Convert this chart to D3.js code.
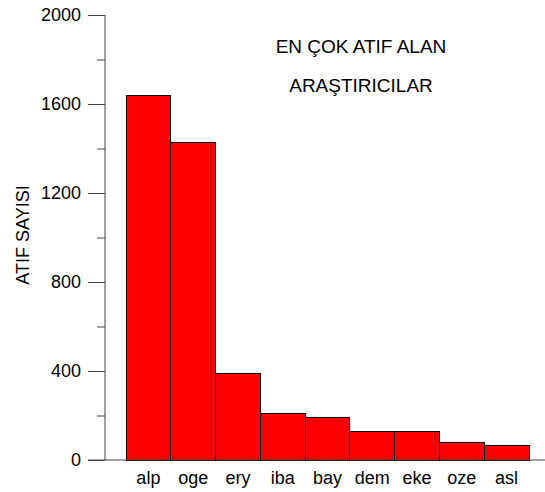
<!DOCTYPE html>
<html><head><meta charset="utf-8">
<script src="https://cdn.jsdelivr.net/npm/d3@7"></script>
<style>body{margin:0;background:#fff}svg{display:block;font-family:"Liberation Sans",Arial,sans-serif}</style>
</head><body>
<script>
const categories = ["alp","oge","ery","iba","bay","dem","eke","oze","asl"];
const values = [1640,1425,390,207,192,130,126,80,67];
const majorTicks = [0,400,800,1200,1600,2000];
const minorTicks = [200,600,1000,1400,1800];
const titleLines = ["EN ÇOK ATIF ALAN","ARAŞTIRICILAR"];
const yTitle = "ATIF SAYISI";

const W=545,H=492;
const svg=d3.select("body").append("svg").attr("width",W).attr("height",H);
const y=d3.scaleLinear().domain([0,2000]).range([460,15]);
const x=d3.scaleBand().domain(categories).range([126,529]).padding(0);
const FONT="Liberation Sans, Arial, sans-serif";

// bars
svg.append("g").selectAll("rect").data(categories).join("rect")
  .attr("x",d=>x(d)).attr("width",x.bandwidth())
  .attr("y",(d,i)=>y(values[i])).attr("height",(d,i)=>y(0)-y(values[i]))
  .attr("fill","#ff0000").attr("stroke","#000").attr("stroke-width",1)
  .attr("shape-rendering","crispEdges");

// y axis
const yAxis=d3.axisLeft(y).tickValues(majorTicks).tickSize(17).tickPadding(7).tickFormat(d3.format("d"));
const gy=svg.append("g").attr("transform","translate(105,0)").call(yAxis);
gy.select(".domain").remove();
gy.append("line").attr("x1",0).attr("x2",0).attr("y1",y(2000)).attr("y2",y(0)).attr("stroke","#444");
gy.selectAll(".tick line").attr("stroke","#444");
gy.selectAll("text").attr("font-size",18).attr("fill","#000").attr("font-family",FONT);
const gm=svg.append("g").attr("transform","translate(105,0)").call(d3.axisLeft(y).tickValues(minorTicks).tickSize(8).tickFormat(""));
gm.select(".domain").remove();
gm.selectAll(".tick line").attr("stroke","#444");

// x axis
const xAxis=d3.axisBottom(x).tickSize(0).tickPadding(0);
const gx=svg.append("g").attr("transform","translate(0,460)").call(xAxis);
gx.select(".domain").remove();
gx.append("line").attr("x1",88).attr("x2",545).attr("y1",0).attr("y2",0).attr("stroke","#444");
gx.selectAll("text").attr("font-size",18).attr("fill","#000").attr("font-family",FONT)
  .attr("dy",null).attr("y",24);

// titles
svg.append("g").selectAll("text").data(titleLines).join("text")
  .attr("x",361).attr("y",(d,i)=>53+i*39).attr("text-anchor","middle")
  .attr("font-size",19).text(d=>d);
svg.append("text").attr("transform","translate(29,235) rotate(-90)")
  .attr("text-anchor","middle").attr("font-size",18).text(yTitle);
</script>
</body></html>
